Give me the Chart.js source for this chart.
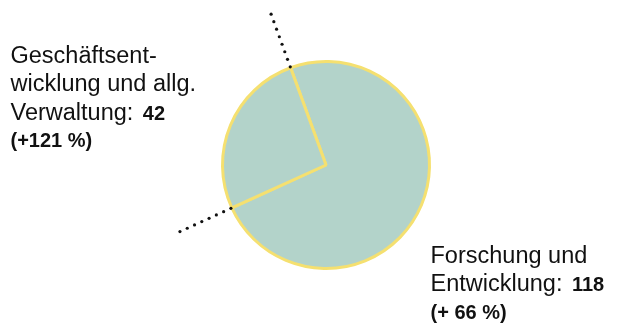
<!DOCTYPE html>
<html>
<head>
<meta charset="utf-8">
<script src="https://cdn.jsdelivr.net/npm/chart.js@4.4.1/dist/chart.umd.min.js"></script>
<style>
  html, body { margin: 0; padding: 0; background: #ffffff; }
  #wrap { position: relative; width: 621px; height: 325px; }
</style>
</head>
<body>
<div id="wrap"><canvas id="pieChart"></canvas></div>
<script>
// data
const categories = ['Forschung und Entwicklung', 'Geschäftsentwicklung und allg. Verwaltung'];
const values = [118, 42];
const changes = ['(+ 66 %)', '(+121 %)'];
const labelLines = [
  ['Forschung und', 'Entwicklung:'],
  ['Geschäftsent-', 'wicklung und allg.', 'Verwaltung:']
];

const fillColor = '#b3d3ca';
const edgeColor = '#f5e070';

// dotted leader lines continuing each slice edge outward
const leaderLines = {
  id: 'leaderLines',
  afterDatasetsDraw(chart) {
    const ctx = chart.ctx;
    const arcs = chart.getDatasetMeta(0).data;
    ctx.save();
    ctx.fillStyle = '#111111';
    arcs.forEach(arc => {
      const a = arc.startAngle;
      const rOut = arc.outerRadius + 57;
      for (let r = rOut; r >= arc.outerRadius + 1; r -= 8) {
        ctx.beginPath();
        ctx.arc(arc.x + Math.cos(a) * r, arc.y + Math.sin(a) * r, 1.6, 0, Math.PI * 2);
        ctx.fill();
      }
    });
    ctx.restore();
  }
};

// text labels with bold values
const sliceLabels = {
  id: 'sliceLabels',
  afterDraw(chart) {
    const ctx = chart.ctx;
    const pos = [{ x: 430.5, y: 263 }, { x: 10.5, y: 63 }];
    const lineGap = 28.3;
    const normalFont = '23.5px "Liberation Sans", Arial, sans-serif';
    const boldFont = 'bold 20px "Liberation Sans", Arial, sans-serif';
    ctx.save();
    ctx.fillStyle = '#111111';
    ctx.textBaseline = 'alphabetic';
    ctx.textAlign = 'left';
    labelLines.forEach((lines, i) => {
      const p = pos[i];
      let y = p.y;
      lines.forEach((line, j) => {
        ctx.font = normalFont;
        ctx.fillText(line, p.x, y);
        if (j === lines.length - 1) {
          const w = ctx.measureText(line + ' ').width + 3;
          ctx.font = boldFont;
          ctx.fillText(String(values[i]), p.x + w, y);
        }
        y += lineGap;
      });
      ctx.font = boldFont;
      ctx.fillText(changes[i], p.x, y - 1);
    });
    ctx.restore();
  }
};

const ctx = document.getElementById('pieChart');
new Chart(ctx, {
  type: 'pie',
  data: {
    labels: categories,
    datasets: [{
      data: values,
      backgroundColor: fillColor,
      borderColor: edgeColor,
      borderWidth: 3,
      borderAlign: 'center'
    }]
  },
  options: {
    responsive: true,
    maintainAspectRatio: false,
    animation: false,
    rotation: -20,
    layout: { padding: { left: 176, right: 145, top: 60, bottom: 55 } },
    plugins: {
      legend: { display: false },
      tooltip: { enabled: false }
    }
  },
  plugins: [leaderLines, sliceLabels]
});
</script>
</body>
</html>
